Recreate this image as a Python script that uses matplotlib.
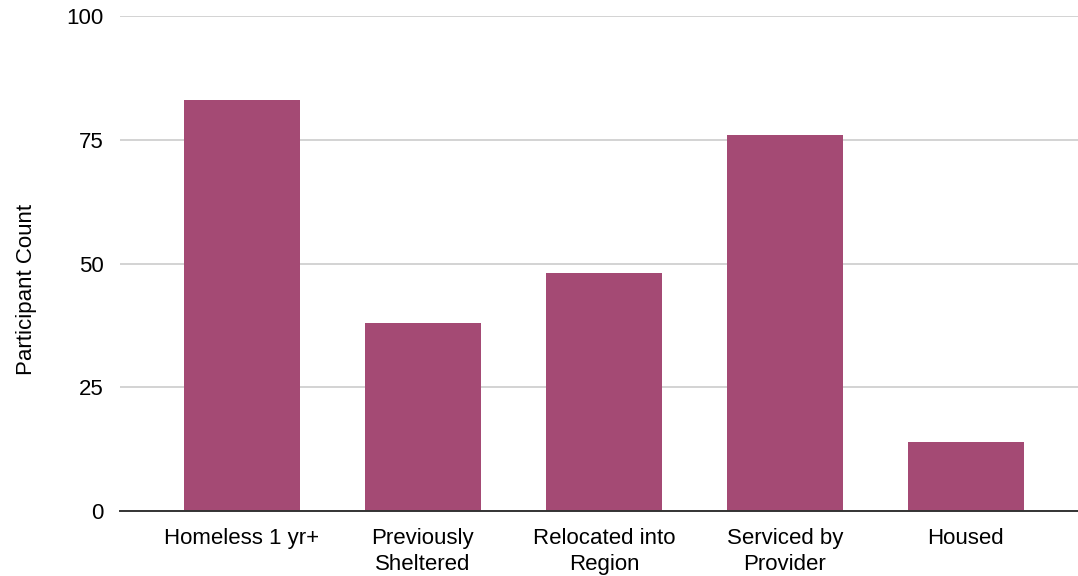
import matplotlib.pyplot as plt

categories = ["Homeless 1 yr+", "Previously\nSheltered", "Relocated into\nRegion",
              "Serviced by\nProvider", "Housed"]
counts = [83, 38, 48, 76, 14]
yticks = [0, 25, 50, 75, 100]

plt.rcParams['font.family'] = ['Liberation Sans', 'DejaVu Sans']

fig = plt.figure(figsize=(10.78, 5.76), dpi=100)
ax = fig.add_axes([120 / 1078, 1 - 511 / 576, 1 - 120 / 1078, (511 - 16) / 576])

x = range(len(categories))
ax.bar(x, counts, width=0.64, color="#a44a74", zorder=3)

ax.set_ylim(0, 100)
ax.set_xlim(-0.674, 4.62)
ax.set_yticks(yticks)
ax.set_xticks(list(x))
ax.set_xticklabels(categories, fontsize=16, linespacing=1.35)
ax.tick_params(axis='y', labelsize=16, length=0, pad=12)
ax.tick_params(axis='x', length=0, pad=12)
ax.grid(axis='y', color="#cccccc", linewidth=1.2, zorder=0)
for s in ["top", "right", "left"]:
    ax.spines[s].set_visible(False)
ax.spines["bottom"].set_color("#333333")
ax.spines["bottom"].set_linewidth(1.4)
ax.spines["bottom"].set_zorder(4)

ax.set_ylabel("Participant Count", fontsize=16)
ax.yaxis.set_label_coords(-0.087, 0.448)

fig.savefig("out.png", dpi=100)
